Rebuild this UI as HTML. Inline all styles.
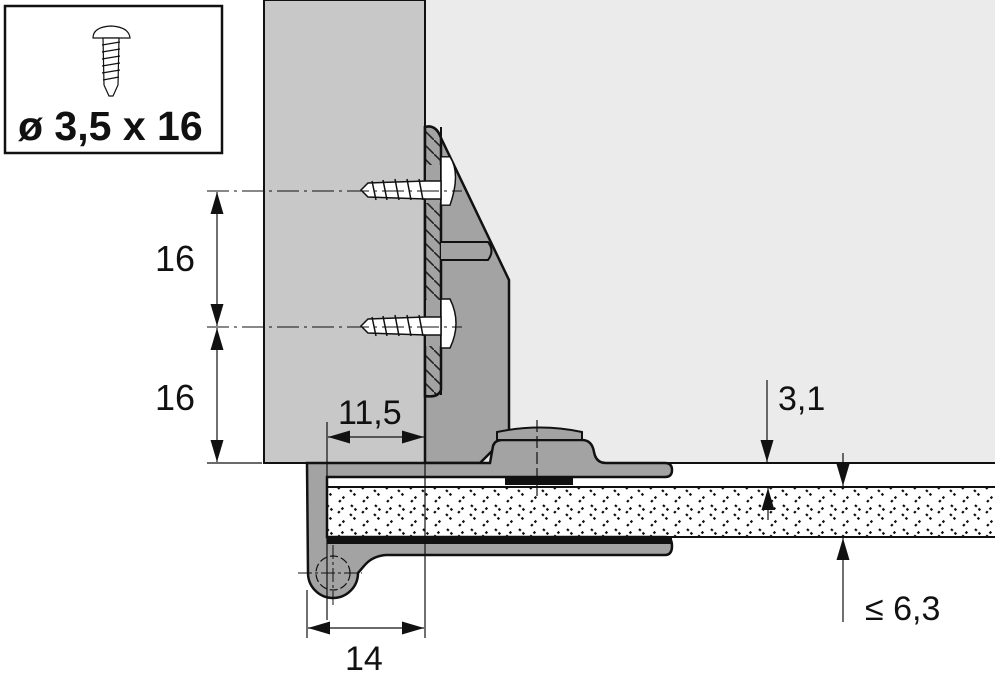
<!DOCTYPE html>
<html><head><style>
html,body{margin:0;padding:0;background:#fff;}
svg{display:block;font-family:"Liberation Sans",sans-serif;}
</style></head><body>
<svg width="1000" height="677" viewBox="0 0 1000 677" xmlns="http://www.w3.org/2000/svg">
<defs>
<marker id="b" viewBox="0 0 10 10" refX="10" refY="5" markerWidth="22" markerHeight="13" markerUnits="userSpaceOnUse" orient="auto-start-reverse" preserveAspectRatio="none"><path d="M0,0 L10,5 L0,10 z" fill="#111"/></marker>
<pattern id="h" width="24" height="24" patternUnits="userSpaceOnUse">
<path d="M2,9 L9,2 M14,10 L21,17 M3,22 L10,15 M15,1 L22,8" stroke="#111" stroke-width="2.2" stroke-dasharray="2.5 2.5"/>
</pattern>
<pattern id="s" width="14" height="14" patternUnits="userSpaceOnUse"><rect width="14" height="14" fill="#a3a3a3"/><path d="M-2,-2 L16,16" stroke="#222" stroke-width="1.6"/></pattern>
</defs>
<rect x="425" y="0" width="570" height="463" fill="#ebebeb"/>
<line x1="425" y1="463" x2="995" y2="463" stroke="#111" stroke-width="2"/>
<rect x="264" y="0" width="161" height="463" fill="#c8c8c8" stroke="#111" stroke-width="2"/>
<!-- wall bracket -->
<path d="M425,127 Q436,124 441,138 L509,280 L509,430 Q509,445 495,448 L480,463 L425,463 Z" fill="#a3a3a3" stroke="#111" stroke-width="2.5"/>
<path d="M425,127 Q436,124 441,138 L441,390 Q438,398 425,396 Z" fill="url(#s)" stroke="#111" stroke-width="2.5"/>
<path d="M441,127 L441,395" stroke="#111" stroke-width="2"/>
<rect x="426" y="165" width="14" height="38" fill="#a3a3a3"/>
<rect x="426" y="300" width="14" height="46" fill="#a3a3a3"/>
<path d="M441,242 L488,242 Q495,251 488,260 L441,260" fill="#a3a3a3" stroke="#111" stroke-width="2"/>
<!-- screws -->
<g stroke="#111" stroke-width="1.5" fill="#fff">
<path d="M441,166 L450,166 Q461,184 450,218 L441,218 Z" transform="translate(0,-5) scale(1,0.93) translate(0,8)"/>
<path d="M361,190 L368,183 L426,181 L441,181 L441,199 L426,199 L368,197 Z"/>
<path d="M441,302 L450,302 Q462,326 450,351 L441,351 Z" transform="translate(0,-3)"/>
<path d="M361,326 L368,319 L426,317 L441,317 L441,335 L426,335 L368,333 Z"/>
</g>
<g stroke="#111" stroke-width="1.5" fill="none">
<path d="M372,181 L376,200 M383,180 L387,200 M395,179 L399,200 M407,179 L411,200 M419,179 L423,200"/>
<path d="M372,317 L376,336 M383,316 L387,336 M395,315 L399,336 M407,315 L411,336 M419,315 L423,336"/>
</g>
<g stroke="#111" stroke-width="1" stroke-dasharray="22 5 3 5">
<line x1="207" y1="191" x2="462" y2="191"/>
<line x1="207" y1="327" x2="462" y2="327"/>
</g>
<line x1="207" y1="463" x2="262" y2="463" stroke="#111" stroke-width="1.2"/>
<line x1="217" y1="192" x2="217" y2="326" stroke="#111" stroke-width="1.2" marker-start="url(#b)" marker-end="url(#b)"/>
<line x1="217" y1="328" x2="217" y2="462" stroke="#111" stroke-width="1.2" marker-start="url(#b)" marker-end="url(#b)"/>
<text x="155" y="271" font-size="36" fill="#111">16</text>
<text x="155" y="410" font-size="36" fill="#111">16</text>
<!-- glass -->
<rect x="327" y="487" width="668" height="50" fill="#fff"/>
<rect x="327" y="487" width="668" height="50" fill="url(#h)"/>
<line x1="327" y1="487" x2="995" y2="487" stroke="#111" stroke-width="2"/>
<line x1="327" y1="537" x2="995" y2="537" stroke="#111" stroke-width="2"/>
<!-- bottom bracket -->
<path d="M307,463 L490,463 L493,446 Q495,440 502,440 L582,440 Q592,440 594,452 Q596,463 606,463 L665,463 Q672,463 672,470 Q672,477 665,477 L327,477 L327,537 L665,537 Q672,537 672,546 Q672,555 665,555 L386,555 Q372,556 364,566 L358,573 A25,25 0 0 1 308,573 Z" fill="#a3a3a3" stroke="#111" stroke-width="2.5"/>
<rect x="327" y="538" width="345" height="6" fill="#111"/>
<rect x="505" y="477" width="68" height="8" fill="#111"/>
<path d="M497,440 L497,432 Q540,423 582,432 L582,440 Z" fill="#a3a3a3" stroke="#111" stroke-width="2"/>
<line x1="537" y1="420" x2="537" y2="497" stroke="#111" stroke-width="1.2" stroke-dasharray="12 4"/>
<circle cx="333" cy="573" r="17" fill="none" stroke="#111" stroke-width="1.2" stroke-dasharray="8 3"/>
<line x1="298" y1="573" x2="362" y2="573" stroke="#111" stroke-width="1" stroke-dasharray="14 3 3 3"/>
<line x1="333" y1="545" x2="333" y2="605" stroke="#111" stroke-width="1" stroke-dasharray="14 3 3 3"/>
<!-- dims -->
<line x1="327" y1="422" x2="327" y2="620" stroke="#111" stroke-width="1.2"/>
<line x1="425" y1="463" x2="425" y2="638" stroke="#111" stroke-width="1.2"/>
<line x1="307" y1="590" x2="307" y2="638" stroke="#111" stroke-width="1.2"/>
<line x1="328" y1="437" x2="424" y2="437" stroke="#111" stroke-width="1.2" marker-start="url(#b)" marker-end="url(#b)"/>
<text x="338" y="424" font-size="34" fill="#111">11,5</text>
<line x1="308" y1="628" x2="424" y2="628" stroke="#111" stroke-width="1.2" marker-start="url(#b)" marker-end="url(#b)"/>
<text x="345" y="670" font-size="34" fill="#111">14</text>
<line x1="767" y1="380" x2="767" y2="462" stroke="#111" stroke-width="1.2" marker-end="url(#b)"/>
<line x1="768" y1="520" x2="768" y2="488" stroke="#111" stroke-width="1.2" marker-end="url(#b)"/>
<text x="778" y="410" font-size="34" fill="#111">3,1</text>
<line x1="843" y1="453" x2="843" y2="486" stroke="#111" stroke-width="1.2" marker-end="url(#b)"/>
<line x1="843" y1="622" x2="843" y2="538" stroke="#111" stroke-width="1.2" marker-end="url(#b)"/>
<text x="865" y="620" font-size="34" fill="#111">≤ 6,3</text>
<!-- screw box -->
<rect x="5" y="6" width="217" height="147" fill="#fff" stroke="#111" stroke-width="2.5"/>
<g stroke="#111" stroke-width="1.2" fill="#fff">
<path d="M93,38 Q93,27 111,26 Q129,27 130,38 Z"/>
<path d="M103,38 L119,38 L118,85 L113,96 L109,96 L104,85 Z"/>
<path d="M102,45 L120,42 M102,52 L120,49 M102,59 L120,56 M102,66 L120,63 M102,73 L120,70 M103,80 L119,77"/>
</g>
<text x="18" y="140" font-size="41" font-weight="bold" fill="#111">ø 3,5 x 16</text>
</svg>
</body></html>
